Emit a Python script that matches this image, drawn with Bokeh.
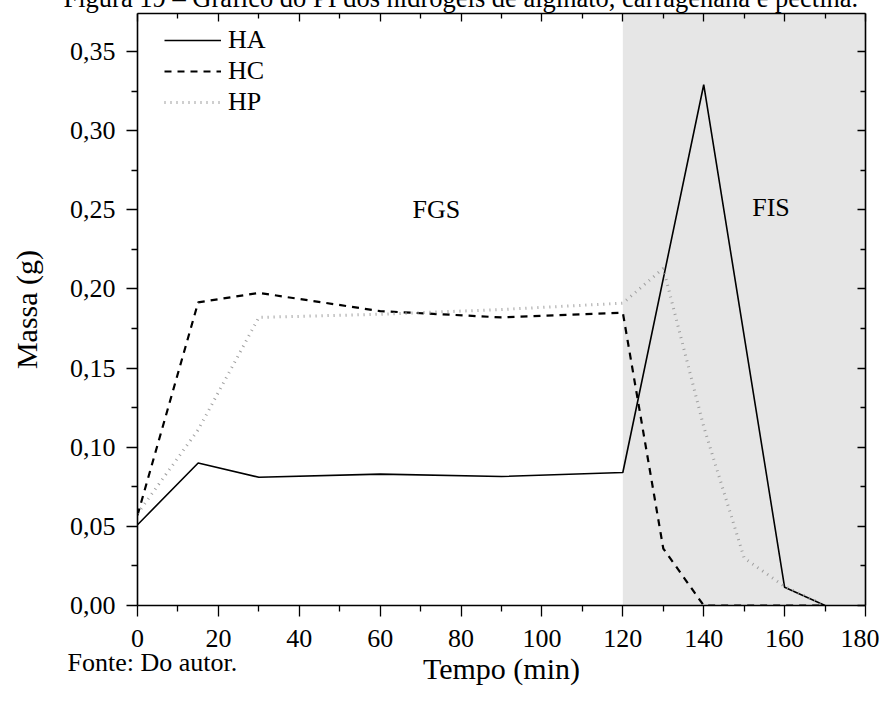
from bokeh.plotting import figure
from bokeh.models import (LinearAxis, FixedTicker, CustomJSTickFormatter, BoxAnnotation,
                          Legend, LegendItem, Label, Range1d, Title)
from bokeh.embed import file_html
from bokeh.resources import INLINE

# ---- data ----
time_ha = [0, 15, 30, 60, 90, 120, 140, 160, 170]
mass_ha = [0.051, 0.090, 0.081, 0.083, 0.0815, 0.084, 0.329, 0.0115, 0.0]

time_hc = [0, 15, 30, 60, 90, 120, 130, 140, 150, 160, 170]
mass_hc = [0.057, 0.1915, 0.1975, 0.186, 0.182, 0.185, 0.036, 0.0, 0.0, 0.0, 0.0]

time_hp = [0, 15, 30, 60, 90, 120, 130, 140, 150, 160, 170]
mass_hp = [0.058, 0.111, 0.182, 0.184, 0.187, 0.191, 0.213, 0.113, 0.030, 0.012, 0.0]

series_names = ["HA", "HC", "HP"]
x_ticks = [0, 20, 40, 60, 80, 100, 120, 140, 160, 180]
x_minor = [10, 30, 50, 70, 90, 110, 130, 150, 170]
y_ticks = [0.0, 0.05, 0.10, 0.15, 0.20, 0.25, 0.30, 0.35]
y_minor = [0.025, 0.075, 0.125, 0.175, 0.225, 0.275, 0.325]
phase_names = ["FGS", "FIS"]
phase_label_x = [68, 152]
phase_label_y = [0.25, 0.2515]
phase_boundary = 120
x_max = 180
y_max = 0.374

title_text = "Figura 19 – Gráfico do PI dos hidrogéis de alginato, carragenana e pectina."
source_text = "Fonte: Do autor."

FONT = "Liberation Serif"

W, H = 879, 697
p = figure(width=W, height=H, output_backend="svg", toolbar_location=None,
           x_range=Range1d(0, x_max), y_range=Range1d(0, y_max),
           min_border_left=137, min_border_right=14, min_border_top=13, min_border_bottom=92,
           x_axis_label="Tempo (min)", y_axis_label="Massa (g)")
p.background_fill_color = "white"
p.border_fill_color = "white"
p.outline_line_color = None
p.xgrid.visible = False
p.ygrid.visible = False

# shaded intestinal phase
p.add_layout(BoxAnnotation(left=phase_boundary, right=x_max, fill_color="#e6e6e6",
                           fill_alpha=1.0, line_color=None, level="underlay"))

r_ha = p.line(time_ha, mass_ha, line_color="black", line_width=1.6)
r_hc = p.line(time_hc, mass_hc, line_color="black", line_width=2.2, line_dash="7 6")
r_hp = p.line(time_hp, mass_hp, line_color="#9f9f9f", line_width=3, line_dash="1 5")

fmt_y = CustomJSTickFormatter(code="return tick.toFixed(2).replace('.', ',');")
fmt_x = CustomJSTickFormatter(code="return tick.toFixed(0);")
blank = CustomJSTickFormatter(code="return '';")

for ax in p.xaxis:
    ax.ticker = FixedTicker(ticks=x_ticks, minor_ticks=x_minor)
    ax.formatter = fmt_x
for ax in p.yaxis:
    ax.ticker = FixedTicker(ticks=y_ticks, minor_ticks=y_minor)
    ax.formatter = fmt_y

def style(ax, out=True):
    ax.axis_line_color = "black"
    ax.axis_line_width = 1.6
    ax.major_tick_line_color = "black"
    ax.minor_tick_line_color = "black"
    ax.major_tick_line_width = 1.3
    ax.minor_tick_line_width = 1.3
    if out:
        ax.major_tick_out = 11
        ax.major_tick_in = 0
        ax.minor_tick_out = 6
        ax.minor_tick_in = 0
    else:
        ax.major_tick_out = 0
        ax.major_tick_in = 8
        ax.minor_tick_out = 0
        ax.minor_tick_in = 5
    ax.major_label_text_font = FONT
    ax.major_label_text_font_size = "26px"
    ax.major_label_text_color = "black"
    ax.axis_label_text_font = FONT
    ax.axis_label_text_font_size = "30px"
    ax.axis_label_text_font_style = "normal"
    ax.axis_label_text_color = "black"

style(p.xaxis[0])
style(p.yaxis[0])
p.xaxis[0].major_label_standoff = 13
p.xaxis[0].axis_label_standoff = 2
p.yaxis[0].major_label_standoff = 11
p.yaxis[0].axis_label_standoff = 24

top = LinearAxis(ticker=FixedTicker(ticks=x_ticks, minor_ticks=x_minor), formatter=blank)
style(top, out=False)
top.major_label_text_font_size = "0px"
top.major_label_standoff = 0
p.add_layout(top, "above")

right = LinearAxis(ticker=FixedTicker(ticks=y_ticks, minor_ticks=y_minor), formatter=blank)
style(right, out=False)
right.major_label_text_font_size = "0px"
right.major_label_standoff = 0
p.add_layout(right, "right")

legend = Legend(items=[LegendItem(label=series_names[0], renderers=[r_ha]),
                       LegendItem(label=series_names[1], renderers=[r_hc]),
                       LegendItem(label=series_names[2], renderers=[r_hp])],
                location=(27, 488), margin=0, padding=0, spacing=1,
                glyph_width=57, glyph_height=24, label_height=24, label_standoff=7,
                border_line_color=None, background_fill_alpha=0.0,
                label_text_font=FONT, label_text_font_size="26px", label_text_color="black")
p.add_layout(legend)

for name, lx, ly in zip(phase_names, phase_label_x, phase_label_y):
    p.add_layout(Label(x=lx, y=ly, text=name, text_font=FONT, text_font_size="26px",
                       text_align="left", text_baseline="middle", text_color="black"))

# source note: a title in the bottom panel, pulled up beside the axis label
fonte = Title(text=source_text, align="left", vertical_align="top", offset=-70,
              text_font=FONT, text_font_size="26px", text_font_style="normal",
              text_color="black")
try:
    fonte.standoff = -80
except ValueError:
    fonte.standoff = 0
p.add_layout(fonte, "below")

# (cropped) figure caption at the very top of the page
caption = Title(text=title_text, align="left", vertical_align="top", offset=-74,
                text_font=FONT, text_font_size="26.5px", text_font_style="normal",
                text_color="black")
try:
    caption.standoff = -1410
    p.add_layout(caption, "below")
except ValueError:
    p.add_layout(Label(x=323, y=597, x_units="screen", y_units="screen", text=title_text,
                       text_font=FONT, text_font_size="26px", text_align="center",
                       text_baseline="alphabetic", text_color="black"))

open("out.html", "w").write(file_html(p, INLINE))
